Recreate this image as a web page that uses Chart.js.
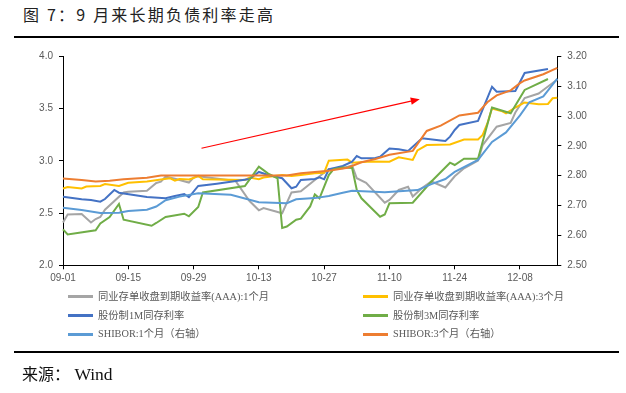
<!DOCTYPE html>
<html>
<head>
<meta charset="utf-8">
<script src="https://cdn.jsdelivr.net/npm/chart.js@4.4.1/dist/chart.umd.min.js"></script>
<style>
  html, body { margin: 0; padding: 0; background: #fff; width: 626px; height: 393px; overflow: hidden; }
  #title { position: absolute; left: 23px; top: 3px; font-family: "Noto Sans CJK SC"; font-size: 16px; line-height: 22px; color: #222; letter-spacing: 2.2px; white-space: nowrap; }
  .rule { position: absolute; left: 14px; width: 605px; height: 2px; background: #000; }
  #wrap { position: absolute; left: 0; top: 0; width: 626px; height: 290px; }
  #legend { position: absolute; left: 0; top: 0; width: 626px; height: 393px; pointer-events: none; }
  .lg-line { position: absolute; width: 25px; height: 2.5px; }
  .lg-text { position: absolute; font-family: "Liberation Serif", "Noto Sans CJK SC"; font-size: 10.3px; line-height: 14px; color: #595959; white-space: nowrap; }
  #source { position: absolute; left: 22px; top: 361px; line-height: 24px; color: #111; white-space: nowrap; }
  #source .cn { font-family: "Noto Sans CJK SC"; font-size: 16px; }
  #source .en { font-family: "Liberation Serif"; font-size: 17.5px; }
</style>
</head>
<body>
<div id="title">图 7：9 月来长期负债利率走高</div>
<div class="rule" style="top:36px"></div>
<div id="wrap"><canvas id="c" width="626" height="290"></canvas></div>
<div id="legend"></div>
<div class="rule" style="top:350.5px"></div>
<div id="source"><span class="cn">来源：</span><span class="en"> Wind</span></div>
<script>
// ---------- data ----------
const monthDays = [['09', 30], ['10', 31], ['11', 30], ['12', 16]];
const categories = [];
for (const [m, n] of monthDays) for (let d = 1; d <= n; d++) categories.push(m + '-' + String(d).padStart(2, '0'));

const xTickLabels = ['09-01', '09-15', '09-29', '10-13', '10-27', '11-10', '11-24', '12-08'];

const seriesNames = [
  '同业存单收盘到期收益率(AAA):1个月',
  '同业存单收盘到期收益率(AAA):3个月',
  '股份制1M同存利率',
  '股份制3M同存利率',
  'SHIBOR:1个月（右轴）',
  'SHIBOR:3个月（右轴）'
];

const ncdAAA1M = [['09-01',2.410],['09-02',2.486],['09-05',2.491],['09-07',2.410],['09-08',2.443],['09-09',2.462],['09-10',2.532],['09-14',2.697],['09-15',2.704],['09-19',2.714],['09-21',2.788],['09-22',2.800],['09-23',2.848],['09-25',2.829],['09-28',2.792],['09-29',2.840],['09-30',2.852],['10-08',2.807],['10-11',2.615],['10-13',2.526],['10-14',2.548],['10-18',2.498],['10-20',2.697],['10-22',2.708],['10-25',2.816],['10-28',2.922],['10-31',2.928],['11-02',2.955],['11-03',2.833],['11-05',2.790],['11-09',2.599],['11-10',2.625],['11-12',2.721],['11-14',2.752],['11-15',2.658],['11-17',2.740],['11-19',2.802],['11-22',2.745],['11-24',2.852],['11-26',2.928],['11-29',3.003],['11-30',3.151],['12-03',3.326],['12-06',3.362],['12-07',3.462],['12-09',3.601],['12-12',3.644],['12-13',3.678],['12-16',3.778]];

const ncdAAA3M = [['09-01',2.735],['09-02',2.749],['09-05',2.735],['09-06',2.754],['09-09',2.759],['09-10',2.778],['09-13',2.759],['09-15',2.790],['09-19',2.802],['09-22',2.821],['09-24',2.833],['09-25',2.811],['09-26',2.826],['09-28',2.821],['09-29',2.835],['09-30',2.855],['10-01',2.823],['10-10',2.816],['10-11',2.840],['10-13',2.823],['10-14',2.840],['10-18',2.864],['10-20',2.855],['10-22',2.864],['10-25',2.880],['10-27',2.886],['10-28',3.001],['11-01',3.012],['11-02',2.982],['11-06',2.993],['11-10',2.991],['11-12',3.033],['11-15',3.008],['11-16',3.099],['11-18',3.151],['11-23',3.156],['11-26',3.204],['11-29',3.204],['11-30',3.247],['12-01',3.357],['12-02',3.500],['12-04',3.477],['12-05',3.455],['12-07',3.510],['12-09',3.558],['12-12',3.542],['12-14',3.544],['12-15',3.598],['12-16',3.604]];

const jointStock1M = [['09-01',2.656],['09-05',2.632],['09-07',2.625],['09-09',2.609],['09-10',2.634],['09-12',2.721],['09-13',2.695],['09-19',2.654],['09-23',2.641],['09-25',2.663],['09-27',2.682],['09-28',2.651],['09-30',2.759],['10-04',2.781],['10-11',2.826],['10-13',2.893],['10-15',2.864],['10-18',2.833],['10-20',2.737],['10-21',2.752],['10-22',2.816],['10-25',2.826],['10-26',2.842],['10-27',2.823],['10-28',2.917],['10-31',2.950],['11-02',2.991],['11-03',3.046],['11-04',3.024],['11-07',3.027],['11-08',3.039],['11-10',3.118],['11-12',3.110],['11-14',3.094],['11-17',3.215],['11-21',3.194],['11-22',3.189],['11-23',3.231],['11-24',3.295],['11-25',3.343],['11-29',3.381],['11-30',3.491],['12-02',3.709],['12-03',3.661],['12-07',3.668],['12-09',3.840],['12-14',3.878]];

const jointStock3M = [['09-01',2.344],['09-02',2.295],['09-08',2.335],['09-09',2.400],['09-11',2.462],['09-13',2.587],['09-14',2.436],['09-20',2.378],['09-21',2.405],['09-23',2.462],['09-27',2.494],['09-28',2.469],['09-30',2.558],['10-01',2.697],['10-10',2.759],['10-13',2.944],['10-15',2.878],['10-17',2.833],['10-18',2.357],['10-19',2.371],['10-21',2.436],['10-22',2.446],['10-24',2.563],['10-25',2.678],['10-26',2.641],['10-28',2.864],['10-29',2.919],['10-31',2.936],['11-02',2.931],['11-03',2.721],['11-04',2.641],['11-08',2.465],['11-09',2.486],['11-10',2.593],['11-15',2.599],['11-19',2.802],['11-23',2.982],['11-24',2.960],['11-26',3.020],['11-29',3.020],['12-02',3.510],['12-06',3.455],['12-09',3.678],['12-14',3.783]];

const shibor1M = [['09-01',2.693],['09-05',2.685],['09-09',2.675],['09-13',2.676],['09-15',2.682],['09-19',2.686],['09-21',2.697],['09-23',2.718],['09-26',2.730],['09-30',2.741],['10-07',2.736],['10-13',2.711],['10-19',2.708],['10-21',2.721],['10-25',2.725],['10-28',2.732],['10-31',2.743],['11-02',2.750],['11-09',2.745],['11-16',2.752],['11-19',2.772],['11-22',2.789],['11-24',2.813],['11-29',2.853],['12-02',2.913],['12-05',2.945],['12-08',3.002],['12-10',3.046],['12-13',3.066],['12-16',3.125]];

const shibor3M = [['09-01',2.791],['09-05',2.786],['09-08',2.781],['09-11',2.783],['09-14',2.788],['09-19',2.793],['09-22',2.801],['10-19',2.801],['10-22',2.808],['10-28',2.817],['11-01',2.827],['11-04',2.845],['11-07',2.856],['11-10',2.870],['11-15',2.883],['11-18',2.950],['11-21',2.968],['11-25',3.002],['11-29',3.011],['12-01',3.046],['12-03',3.069],['12-06',3.086],['12-08',3.110],['12-09',3.119],['12-13',3.140],['12-16',3.161]];

// annotation arrow, in (category index, left-axis value)
const arrowFrom = [29.7, 3.12];
const arrowTo = [76.5, 3.59];

// ---------- chart ----------
const colors = ['#A5A5A5', '#FFC000', '#4472C4', '#70AD47', '#5B9BD5', '#ED7D31'];
const allSeries = [ncdAAA1M, ncdAAA3M, jointStock1M, jointStock3M, shibor1M, shibor3M];
const axisOf = ['y', 'y', 'y', 'y', 'y1', 'y1'];

const datasets = allSeries.map((s, i) => ({
  label: seriesNames[i],
  data: s.map(([d, v]) => ({ x: d, y: v })),
  borderColor: colors[i],
  backgroundColor: colors[i],
  borderWidth: 2,
  pointRadius: 0,
  tension: 0,
  fill: false,
  yAxisID: axisOf[i],
  order: 6 - i
}));

const arrowPlugin = {
  id: 'arrowNote',
  afterDatasetsDraw(chart) {
    const xs = chart.scales.x, ys = chart.scales.y, ctx = chart.ctx;
    const x1 = xs.getPixelForValue(arrowFrom[0]), y1 = ys.getPixelForValue(arrowFrom[1]);
    const x2 = xs.getPixelForValue(arrowTo[0]), y2 = ys.getPixelForValue(arrowTo[1]);
    const ang = Math.atan2(y2 - y1, x2 - x1);
    const hl = 9, hw = 3.6;
    const bx = x2 - hl * Math.cos(ang), by = y2 - hl * Math.sin(ang);
    ctx.save();
    ctx.strokeStyle = '#FF0000';
    ctx.fillStyle = '#FF0000';
    ctx.lineWidth = 1.1;
    ctx.beginPath(); ctx.moveTo(x1, y1); ctx.lineTo(bx, by); ctx.stroke();
    ctx.beginPath();
    ctx.moveTo(x2, y2);
    ctx.lineTo(bx + hw * Math.sin(ang), by - hw * Math.cos(ang));
    ctx.lineTo(bx - hw * Math.sin(ang), by + hw * Math.cos(ang));
    ctx.closePath(); ctx.fill();
    ctx.restore();
  }
};

const tickFont = { family: 'Liberation Sans', size: 10 };

new Chart(document.getElementById('c'), {
  type: 'line',
  data: { labels: categories, datasets },
  options: {
    responsive: false,
    animation: false,
    devicePixelRatio: 1,
    layout: { padding: { top: 56.3, left: 0, right: 0, bottom: 0 } },
    plugins: { legend: { display: false }, tooltip: { enabled: false }, title: { display: false } },
    scales: {
      x: {
        type: 'category',
        offset: false,
        afterFit(s) { s.height = 24.7; },
        border: { display: true, color: '#000', width: 1 },
        grid: {
          drawOnChartArea: false, drawTicks: true, tickLength: 4,
          color: ctx => (ctx.tick && xTickLabels.includes(categories[ctx.tick.value])) ? '#000' : 'rgba(0,0,0,0)'
        },
        ticks: {
          autoSkip: false, maxRotation: 0, minRotation: 0, padding: 3,
          color: '#595959', font: tickFont,
          callback(v) { const l = categories[v]; return xTickLabels.includes(l) ? l : ''; }
        }
      },
      y: {
        position: 'left', min: 2, max: 4,
        afterFit(s) { s.width = 63; },
        border: { display: true, color: '#000', width: 1 },
        grid: { drawOnChartArea: false, drawTicks: true, tickLength: 4, color: '#000' },
        ticks: { stepSize: 0.5, padding: 6, color: '#595959', font: tickFont, callback: v => Number(v).toFixed(1) }
      },
      y1: {
        position: 'right', min: 2.5, max: 3.2,
        afterFit(s) { s.width = 626 - 557.3; },
        border: { display: true, color: '#000', width: 1 },
        grid: { drawOnChartArea: false, drawTicks: true, tickLength: 4, color: '#000' },
        ticks: { stepSize: 0.1, padding: 6, color: '#595959', font: tickFont, callback: v => Number(v).toFixed(2) }
      }
    }
  },
  plugins: [arrowPlugin]
});

// ---------- legend (two columns, three rows) ----------
const legend = document.getElementById('legend');
const legendCols = [68, 363];
const legendRows = [296.7, 315.5, 334.3];
seriesNames.forEach((name, i) => {
  const cx = legendCols[i % 2], cy = legendRows[Math.floor(i / 2)];
  const ln = document.createElement('div');
  ln.className = 'lg-line';
  ln.style.left = cx + 'px';
  ln.style.top = (cy - 1.25) + 'px';
  ln.style.background = colors[i];
  legend.appendChild(ln);
  const tx = document.createElement('div');
  tx.className = 'lg-text';
  tx.textContent = name;
  tx.style.left = (cx + 30) + 'px';
  tx.style.top = (cy - 7) + 'px';
  legend.appendChild(tx);
});
</script>
</body>
</html>
